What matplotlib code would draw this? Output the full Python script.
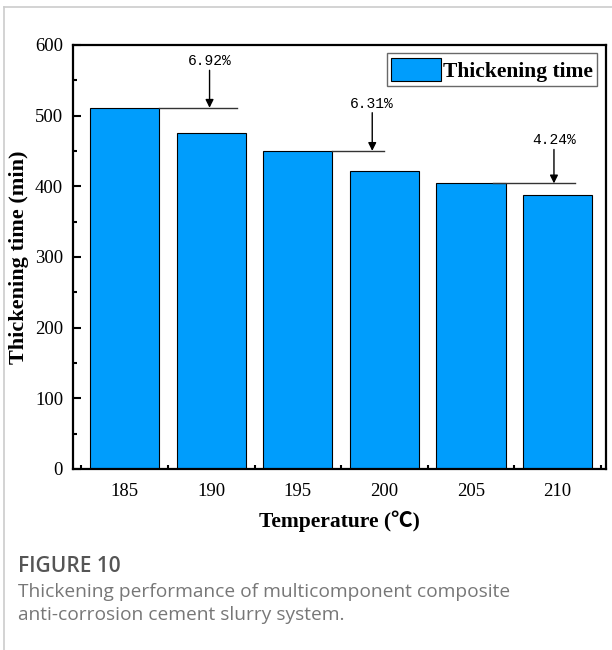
import matplotlib
matplotlib.use("Agg")
import matplotlib.pyplot as plt
from matplotlib.lines import Line2D
import numpy as np

temps = ["185", "190", "195", "200", "205", "210"]
thick_time = [511, 475.6, 450, 421.6, 404, 386.9]

# reduction labels: (text, line start, line end, reference value, arrow x, arrow top)
drops = [
    ("6.92%", 0.4, 1.3, 511, 0.98, 564),
    ("6.31%", 2.4, 3.0, 450, 2.86, 504),
    ("4.24%", 4.25, 5.2, 404, 4.96, 452),
]

plt.rcParams["font.family"] = ["Liberation Serif", "Noto Sans CJK SC", "DejaVu Serif"]

fig = plt.figure(figsize=(6.12, 6.5), dpi=100)
ax = fig.add_axes([0.119, 0.2785, 0.871, 0.6525])

x = np.arange(len(temps))
ax.bar(x, thick_time, width=0.8, color="#009dfc", edgecolor="black",
       linewidth=0.8, label="Thickening time", zorder=2)

for txt, x0, x1, ref, xa, ytop in drops:
    ax.plot([x0, x1], [ref, ref], color="#333333", lw=1.0, zorder=3)
    ax.annotate("", xy=(xa, ref), xytext=(xa, ytop),
                arrowprops=dict(arrowstyle="-|>", color="black", lw=1.0,
                                mutation_scale=12, shrinkA=0, shrinkB=0))
    ax.text(xa, ytop + 3, txt, ha="center", va="bottom", fontsize=10.5,
            family="Liberation Mono")

ax.set_xlim(-0.6, 5.56)
ax.set_ylim(0, 600)
ax.set_xticks(x)
ax.set_xticklabels(temps)
ax.set_xticks(np.arange(-0.5, 6, 1), minor=True)
ax.set_yticks(np.arange(0, 601, 100))
ax.set_yticks(np.arange(50, 600, 100), minor=True)
ax.tick_params(which="major", direction="in", length=6, width=1.5, labelsize=13.5)
ax.tick_params(axis="x", which="major", pad=10)
ax.tick_params(axis="y", which="major", pad=7)
ax.tick_params(which="minor", direction="in", length=3, width=1.5)
for s in ax.spines.values():
    s.set_linewidth(1.6)

ax.set_xlabel("Temperature (\u2103)", fontsize=15.5, fontweight="bold", labelpad=8)
ax.set_ylabel("Thickening time (min)", fontsize=16, fontweight="bold", labelpad=4)

leg = ax.legend(loc="upper right", prop={"weight": "bold", "size": 15.5},
                frameon=True, fancybox=False, edgecolor="#444444",
                handlelength=2.3, handleheight=1.3, handletextpad=0.1,
                borderpad=0.2, borderaxespad=0.4)
leg.get_frame().set_linewidth(1.0)

# panel frame
fig.add_artist(Line2D([4 / 612, 4 / 612], [0, 1 - 7 / 650], color="#cccccc", lw=1.2))
fig.add_artist(Line2D([4 / 612, 1], [1 - 7 / 650, 1 - 7 / 650], color="#cccccc", lw=1.2))

fig.text(18 / 612, 1 - 567 / 650, "FIGURE 10", fontsize=15, color="#555555",
         family="Open Sans", fontweight="semibold", va="center")
fig.text(18 / 612, 1 - 592 / 650, "Thickening performance of multicomponent composite",
         fontsize=13.8, color="#777777", family="Open Sans", va="center")
fig.text(18 / 612, 1 - 615 / 650, "anti-corrosion cement slurry system.",
         fontsize=13.8, color="#777777", family="Open Sans", va="center")

fig.savefig("out.png", dpi=100)
